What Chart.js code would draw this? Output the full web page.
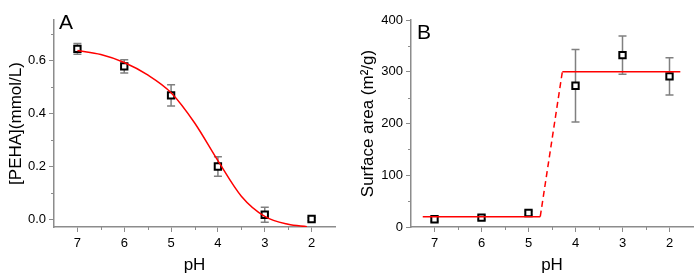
<!DOCTYPE html>
<html>
<head>
<meta charset="utf-8">
<script src="https://cdn.jsdelivr.net/npm/chart.js@4.4.0/dist/chart.umd.min.js"></script>
<style>
  body { margin: 0; background: #fff; }
  #wrap { position: relative; width: 700px; height: 280px; }
  .panel { position: absolute; top: 0; width: 350px; height: 280px; }
  .letter { position: absolute; font: 21px "Liberation Sans", Arial, sans-serif; color: #000; }
</style>
</head>
<body>
<div id="wrap">
  <div class="panel" style="left:0"><canvas id="chartA" width="350" height="280"></canvas></div>
  <div class="panel" style="left:350px"><canvas id="chartB" width="350" height="280"></canvas></div>
  <div class="letter" style="left:59px;top:10px">A</div>
  <div class="letter" style="left:417px;top:20px">B</div>
</div>
<script>
// panel A: PEHA concentration vs pH
const phA = [7, 6, 5, 4, 3, 2];
const peha = [0.643, 0.577, 0.468, 0.200, 0.018, 0.002];
const pehaErr = [0.020, 0.025, 0.040, 0.037, 0.028, 0.006];
// fitted curve
const fitPhA = [7, 6.5, 6, 5.5, 5, 4.5, 4, 3.5, 3, 2.5, 2.1];
const fitValA = [0.637, 0.622, 0.592, 0.545, 0.478, 0.365, 0.222, 0.088, 0.012, -0.018, -0.027];

// panel B: surface area vs pH
const phB = [7, 6, 5, 4, 3, 2];
const area = [15, 18, 27, 273, 332, 291];
const areaErr = [4, 4, 4, 70, 37, 36];
const lowPh = [7.25, 4.75];
const lowVal = [20, 20];
const jumpPh = [4.75, 4.28];
const jumpVal = [20, 300];
const highPh = [4.28, 1.77];
const highVal = [300, 300];

const xTicks = [7, 6, 5, 4, 3, 2];
const xMinor = [6.5, 5.5, 4.5, 3.5, 2.5];
const yTicksA = [0, 0.2, 0.4, 0.6];
const yMinorA = [0.1, 0.3, 0.5, 0.7];
const yTicksB = [0, 100, 200, 300, 400];
const yMinorB = [50, 150, 250, 350];

const FONT = '"Liberation Sans", Arial, sans-serif';
const AXIS = '#8c8c8c';

function pts(xs, ys) {
  return xs.map((x, i) => ({ x: x, y: ys[i] }));
}

const errorBars = {
  id: 'errorBars',
  beforeDatasetsDraw(chart, args, opts) {
    const ctx = chart.ctx;
    const xs = chart.scales.x, ys = chart.scales.y;
    ctx.save();
    ctx.strokeStyle = '#808080';
    ctx.lineWidth = 1.5;
    opts.x.forEach((v, i) => {
      const px = xs.getPixelForValue(v);
      const top = ys.getPixelForValue(opts.y[i] + opts.err[i]);
      const bot = ys.getPixelForValue(opts.y[i] - opts.err[i]);
      ctx.beginPath();
      ctx.moveTo(px, top); ctx.lineTo(px, bot);
      ctx.moveTo(px - 4, top); ctx.lineTo(px + 4, top);
      ctx.moveTo(px - 4, bot); ctx.lineTo(px + 4, bot);
      ctx.stroke();
    });
    ctx.restore();
  }
};

const minorTicks = {
  id: 'minorTicks',
  afterDraw(chart, args, opts) {
    const ctx = chart.ctx;
    const xs = chart.scales.x, ys = chart.scales.y;
    const area = chart.chartArea;
    ctx.save();
    ctx.strokeStyle = AXIS;
    ctx.lineWidth = 1;
    ctx.beginPath();
    opts.x.forEach(v => {
      const px = Math.round(xs.getPixelForValue(v)) + 0.5;
      ctx.moveTo(px, area.bottom); ctx.lineTo(px, area.bottom + 3);
    });
    opts.y.forEach(v => {
      const py = Math.round(ys.getPixelForValue(v)) + 0.5;
      ctx.moveTo(area.left, py); ctx.lineTo(area.left - 3, py);
    });
    ctx.stroke();
    ctx.restore();
  }
};

function makeScales(yMin, yMax, yTicks, yFmt, yTitle, yWidth, titlePad) {
  return {
    x: {
      type: 'linear', reverse: true, min: 1.5, max: 7.5,
      afterBuildTicks: s => { s.ticks = xTicks.map(v => ({ value: v })); },
      afterFit: s => { s.height = 53; },
      border: { color: AXIS, width: 1.5 },
      grid: { drawOnChartArea: false, color: AXIS, tickLength: 5 },
      ticks: { color: '#000', font: { family: FONT, size: 13 }, padding: 4 },
      title: { display: true, text: 'pH', color: '#000', font: { family: FONT, size: 17 }, padding: { top: 4 } }
    },
    y: {
      min: yMin, max: yMax,
      afterBuildTicks: s => { s.ticks = yTicks.map(v => ({ value: v })); },
      afterFit: s => { s.width = yWidth; },
      border: { color: AXIS, width: 1.5 },
      grid: { drawOnChartArea: false, color: AXIS, tickLength: 5 },
      ticks: { color: '#000', font: { family: FONT, size: 13 }, padding: 3, callback: yFmt },
      title: { display: true, text: yTitle, color: '#000', font: { family: FONT, size: 17 }, padding: { top: titlePad, bottom: 2 } }
    }
  };
}

new Chart(document.getElementById('chartA').getContext('2d'), {
  type: 'scatter',
  data: {
    datasets: [{
      data: pts(fitPhA, fitValA),
      showLine: true,
      borderColor: '#ff0000',
      borderWidth: 1.5,
      pointRadius: 0,
      cubicInterpolationMode: 'monotone'
    }, {
      data: pts(phA, peha),
      pointStyle: 'rect',
      pointRadius: 4.5,
      backgroundColor: '#fff',
      borderColor: '#000',
      borderWidth: 2
    }]
  },
  options: {
    responsive: false,
    animation: false,
    layout: { padding: { top: 20, right: 15, left: 0, bottom: 0 } },
    plugins: {
      legend: { display: false },
      tooltip: { enabled: false },
      errorBars: { x: phA, y: peha, err: pehaErr },
      minorTicks: { x: xMinor, y: yMinorA }
    },
    scales: makeScales(-0.028, 0.752, yTicksA, v => v.toFixed(1), '[PEHA](mmol/L)', 54, 6)
  },
  plugins: [errorBars, minorTicks]
});

const redLine = {
  showLine: true,
  borderColor: '#ff0000',
  borderWidth: 1.5,
  pointRadius: 0
};

new Chart(document.getElementById('chartB').getContext('2d'), {
  type: 'scatter',
  data: {
    datasets: [
      Object.assign({ data: pts(lowPh, lowVal) }, redLine),
      Object.assign({ data: pts(jumpPh, jumpVal), borderDash: [6, 4] }, redLine),
      Object.assign({ data: pts(highPh, highVal) }, redLine),
      {
        data: pts(phB, area),
        pointStyle: 'rect',
        pointRadius: 4.5,
        backgroundColor: '#fff',
        borderColor: '#000',
        borderWidth: 2
      }
    ]
  },
  options: {
    responsive: false,
    animation: false,
    layout: { padding: { top: 20, right: 7, left: 0, bottom: 0 } },
    plugins: {
      legend: { display: false },
      tooltip: { enabled: false },
      errorBars: { x: phB, y: area, err: areaErr },
      minorTicks: { x: xMinor, y: yMinorB }
    },
    scales: makeScales(0, 400, yTicksB, v => String(v), 'Surface area (m²/g)', 61, 8)
  },
  plugins: [errorBars, minorTicks]
});
</script>
</body>
</html>
